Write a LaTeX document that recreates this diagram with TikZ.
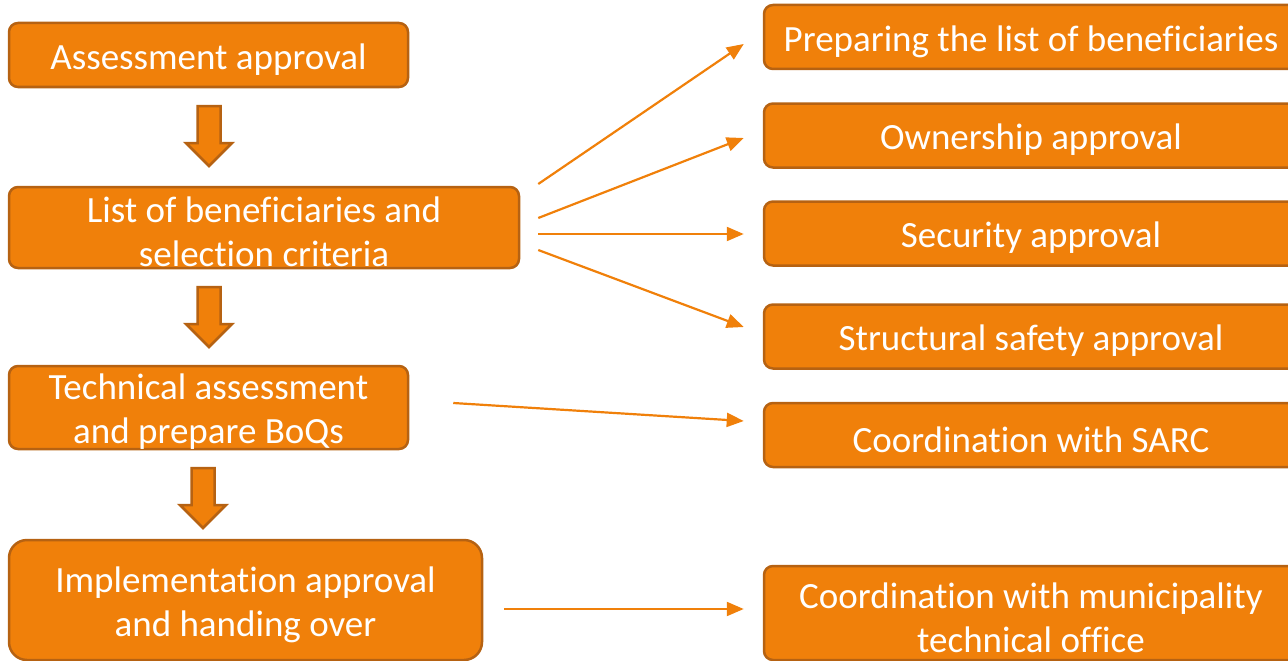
\documentclass[tikz,border=0pt]{standalone}
\usepackage{fontspec}
\setmainfont{Carlito}[Ligatures=NoCommon]
\usetikzlibrary{arrows.meta, positioning}
\definecolor{boxfill}{RGB}{240,128,10}
\definecolor{boxline}{RGB}{182,98,18}
\tikzset{
  box/.style={rectangle, draw=boxline, line width=2.5pt, fill=boxfill, rounded corners=9pt},
  boxtext/.style={text=white, align=center, inner sep=0pt, yshift=-4.5pt, font=\fontsize{37}{44}\selectfont},
  link/.style={draw=boxfill, line width=2.2pt, -{Triangle[length=17pt,width=14pt]}},
  bigarrow/.style={draw=boxline, line width=2.5pt, fill=boxfill, line join=miter}
}
\newcommand{\flowarrow}[2]{%
  \draw[bigarrow] (#1-11.5,#2) -- (#1+11.5,#2) -- (#1+11.5,#2+37) -- (#1+23,#2+37)
    -- (#1,#2+60) -- (#1-23,#2+37) -- (#1-11.5,#2+37) -- cycle;}
\begin{document}
\begin{tikzpicture}[x=1pt, y=-1pt]
    \useasboundingbox (0,0) rectangle (1288,661);
    % Left column
    \node (assess) [box, minimum width=399pt, minimum height=64pt] at (208.5,55) {};
    \node (lob) [box, minimum width=510pt, minimum height=81pt] at (264,227.5) {};
    \node (tech) [box, minimum width=399pt, minimum height=83pt] at (208.5,407.5) {};
    \node (impl) [box, rounded corners=18pt, minimum width=473pt, minimum height=120pt] at (245.5,600) {};
    \node (assess text) [boxtext] at (assess.center) {Assessment approval};
    \node (lob text) [boxtext] at (lob.center) {List of beneficiaries and\\selection criteria};
    \node (tech text) [boxtext] at (tech.center) {Technical assessment\\and prepare BoQs};
    \node (impl text) [boxtext] at (impl.center) {Implementation approval\\and handing over};
    % Right column
    \node (r1) [box, minimum width=534pt, minimum height=64pt] at (1031,37) {};
    \node (r2) [box, minimum width=534pt, minimum height=64pt] at (1031,135.5) {};
    \node (r3) [box, minimum width=534pt, minimum height=64pt] at (1031,233.5) {};
    \node (r4) [box, minimum width=534pt, minimum height=64pt] at (1031,336.5) {};
    \node (r5) [box, minimum width=534pt, minimum height=64pt] at (1031,435) {};
    \node (r6) [box, minimum width=534pt, minimum height=94pt] at (1031,613) {};
    \node (r1 text) [boxtext] at (r1.center) {Preparing the list of beneficiaries};
    \node (r2 text) [boxtext] at (r2.center) {Ownership approval};
    \node (r3 text) [boxtext] at (r3.center) {Security approval};
    \node (r4 text) [boxtext] at (r4.center) {Structural safety approval};
    \node (r5 text) [boxtext] at (r5.center) {Coordination with SARC};
    \node (r6 text) [boxtext] at (r6.center) {Coordination with municipality\\technical office};
    % Block arrows
    \flowarrow{209}{106}
    \flowarrow{209}{287}
    \flowarrow{203}{468}
    % Arrows
    \draw [link] ([shift={(18,-43.5)}]lob.east) -- ([shift={(-19,7)}]r1.west);
    \draw [link] ([shift={(18,-9.5)}]lob.east) -- ([shift={(-19,2.5)}]r2.west);
    \draw [link] ([shift={(18,6.5)}]lob.east) -- ([shift={(-19,0.5)}]r3.west);
    \draw [link] ([shift={(18,22.5)}]lob.east) -- ([shift={(-19,-9.5)}]r4.west);
    \draw [link] ([shift={(44,-4.5)}]tech.east) -- ([shift={(-19,-14)}]r5.west);
    \draw [link] ([shift={(21,9)}]impl.east) -- ([shift={(-19,-4)}]r6.west);
\end{tikzpicture}
\end{document}
